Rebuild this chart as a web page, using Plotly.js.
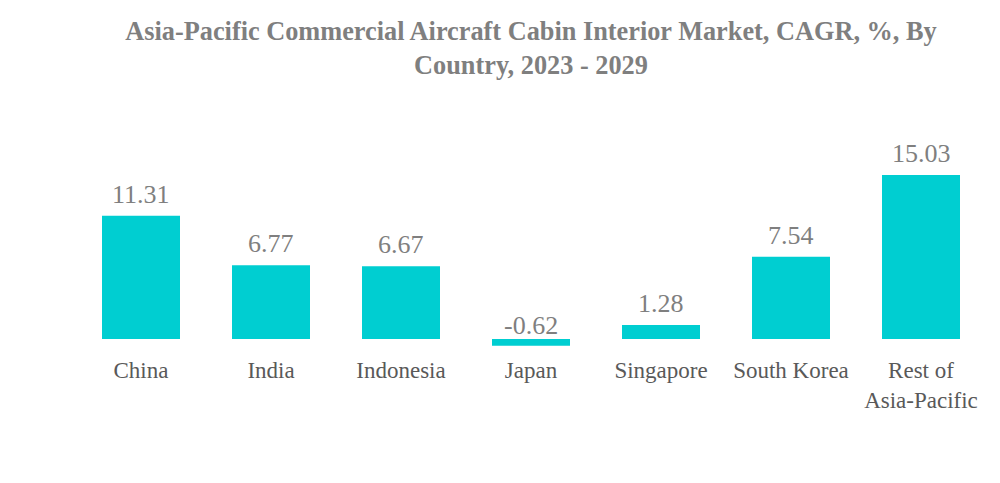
<!DOCTYPE html>
<html>
<head>
<meta charset="utf-8">
<script src="https://cdn.plot.ly/plotly-3.0.1.min.js"></script>
<style>html,body{margin:0;padding:0;background:#fff;}#chart{width:1000px;height:483px;}</style>
</head>
<body>
<div id="chart"></div>
<script>
const categories = ["China", "India", "Indonesia", "Japan", "Singapore", "South Korea", "Rest of<br>Asia-Pacific"];
const cagrValues = [11.31, 6.77, 6.67, -0.62, 1.28, 7.54, 15.03];
const valueLabels = ["11.31", "6.77", "6.67", "-0.62", "1.28", "7.54", "15.03"];

const serif = "Liberation Serif, Times New Roman, serif";

const trace = {
  type: "bar",
  x: categories,
  y: cagrValues,
  marker: {color: "#00CED1"},
  hoverinfo: "none"
};

const labelAnnotations = categories.map((c, i) => ({
  x: c,
  y: Math.max(cagrValues[i], 0),
  xref: "x", yref: "y",
  text: valueLabels[i],
  showarrow: false,
  xanchor: "center", yanchor: "bottom",
  yshift: cagrValues[i] < 0 ? -3 : 5,
  font: {family: serif, size: 26, color: "#7f7f7f"}
}));

const layout = {
  width: 1000,
  height: 483,
  margin: {l: 76, r: 14, t: 130, b: 133},
  paper_bgcolor: "#ffffff",
  plot_bgcolor: "#ffffff",
  bargap: 0.4,
  showlegend: false,
  title: {
    text: "<b>Asia-Pacific Commercial Aircraft Cabin Interior Market, CAGR, %, By<br>Country, 2023 - 2029</b>",
    font: {family: serif, size: 26.3, color: "#7f7f7f"},
    x: 0.5, xref: "paper", xanchor: "center",
    y: 0.918, yref: "container", yanchor: "top"
  },
  xaxis: {
    showgrid: false, zeroline: false, showline: false, ticks: "",
    tickfont: {family: serif, size: 23, color: "#595959"},
    ticklabelstandoff: 4,
    fixedrange: true
  },
  yaxis: {
    range: [-1.008, 19.16],
    visible: false,
    showgrid: false, zeroline: false,
    fixedrange: true
  },
  annotations: labelAnnotations
};

Plotly.newPlot("chart", [trace], layout, {staticPlot: true, displayModeBar: false});
</script>
</body>
</html>
